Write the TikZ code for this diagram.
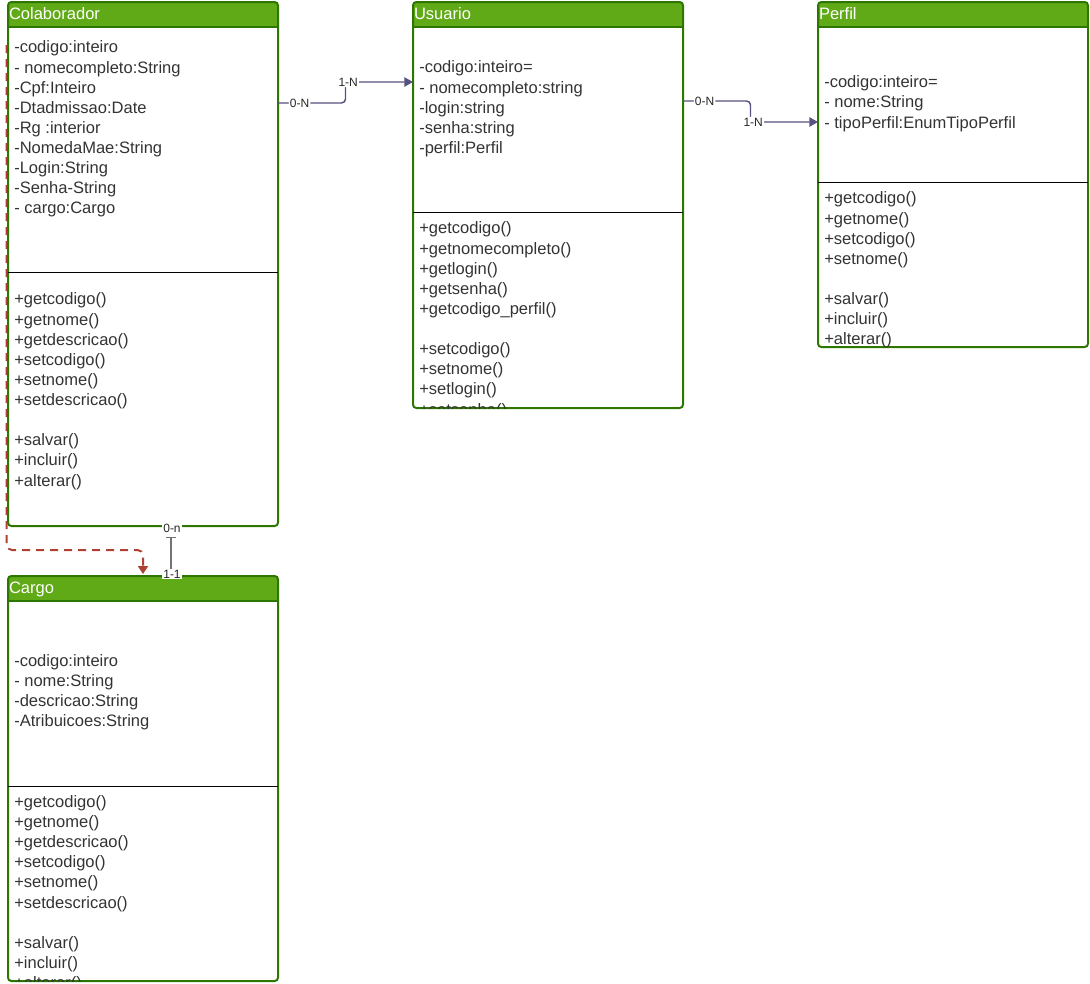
\documentclass[tikz,border=0pt]{standalone}
\usepackage{fontspec}
\setmainfont{Liberation Sans}
\usetikzlibrary{calc,positioning,arrows.meta,backgrounds}
\definecolor{headgreen}{HTML}{60A917}
\definecolor{edgegreen}{HTML}{2D7600}
\definecolor{assocline}{HTML}{56517E}
\definecolor{depline}{HTML}{AE4132}
\definecolor{membertext}{HTML}{333333}
\newcommand{\headstrut}{\rule[-3pt]{0pt}{14.2pt}}

\begin{document}
\begin{tikzpicture}[x=0.75pt, y=-0.75pt,
	classhead/.style={fill=headgreen, text=white, minimum height=18.75pt, text width=201pt, inner xsep=0.75pt, inner ysep=0pt, outer sep=0pt, align=left, font=\fontsize{12.4}{15}\selectfont},
	classbody/.style={draw=edgegreen, line width=1.5pt, rounded corners=2.5pt, anchor=north west, minimum width=202.5pt, inner sep=0pt, outer sep=0pt},
	members/.style={anchor=north west, inner sep=0pt, align=left, text=membertext, font=\fontsize{12.4}{15.1}\selectfont},
	divider/.style={black, line width=0.75pt},
	assoc/.style={assocline, line width=1.1pt, rounded corners=3pt, -{Triangle[width=7pt,length=6.5pt]}},
	onerel/.style={black!55, line width=1.1pt, {Bar[width=7.5pt]}-, shorten <=8.25pt},
	depend/.style={depline, line width=1.5pt, dash pattern=on 6pt off 4.5pt, rounded corners=4pt, -{Triangle[width=7.5pt,length=6pt]}, shorten >=1.5pt},
	lbl/.style={fill=white, inner sep=0.8pt, text=black!85, font=\fontsize{9}{10}\selectfont},
	node distance=101.25pt
	]
	\useasboundingbox (0,0) rectangle (1090,983);
	%Headers
	\node[classhead, anchor=north west](colabhead) at (8,2) {\headstrut Colaborador};
	\node[classhead](usuariohead)[right=of colabhead] {\headstrut Usuario};
	\node[classhead](perfilhead)[right=of usuariohead] {\headstrut Perfil};
	%Class boxes
	\node[classbody, minimum height=393pt](colab) at (colabhead.north west) {};
	\node[classbody, minimum height=304.5pt](usuario) at (usuariohead.north west) {};
	\node[classbody, minimum height=258.75pt](perfil) at (perfilhead.north west) {};
	\node[classhead](cargohead)[below=37.5pt of colab] {\headstrut Cargo};
	\node[classbody, minimum height=303.75pt](cargo) at (cargohead.north west) {};
	% header lines and dividers
	\foreach \cls/\div in {colab/270, usuario/210, perfil/180, cargo/210}{
		\draw[edgegreen, line width=1.5pt] (\cls head.south west) -- (\cls head.south east);
		\draw[divider] ($(\cls.north west)+(0,\div)$) -- ($(\cls.north east)+(0,\div)$);
	}
	%Members
	\begin{scope}
		\clip (colab.north west) rectangle (colab.south east);
		\node[members](colabattr) at ($(colab.north west)+(6,36.5)$) {\strut-codigo:inteiro\\- nomecompleto:String\\-Cpf:Inteiro\\-Dtadmissao:Date\\-Rg :interior\\-NomedaMae:String\\-Login:String\\-Senha-String\\- cargo:Cargo};
		\node[members](colabops) at ($(colab.north west)+(6,288.5)$) {\strut+getcodigo()\\+getnome()\\+getdescricao()\\+setcodigo()\\+setnome()\\+setdescricao()\\[15.1pt]+salvar()\\+incluir()\\+alterar()};
	\end{scope}
	\begin{scope}
		\clip (usuario.north west) rectangle (usuario.south east);
		\node[members](usuarioattr) at ($(usuario.north west)+(6,56.5)$) {\strut-codigo:inteiro=\\- nomecompleto:string\\-login:string\\-senha:string\\-perfil:Perfil};
		\node[members](usuarioops) at ($(usuario.north west)+(6,217.5)$) {\strut+getcodigo()\\+getnomecompleto()\\+getlogin()\\+getsenha()\\+getcodigo\_perfil()\\[15.1pt]+setcodigo()\\+setnome()\\+setlogin()\\+setsenha()};
	\end{scope}
	\begin{scope}
		\clip (perfil.north west) rectangle (perfil.south east);
		\node[members](perfilattr) at ($(perfil.north west)+(6,71.5)$) {\strut-codigo:inteiro=\\- nome:String\\- tipoPerfil:EnumTipoPerfil};
		\node[members](perfilops) at ($(perfil.north west)+(6,187.5)$) {\strut+getcodigo()\\+getnome()\\+setcodigo()\\+setnome()\\[15.1pt]+salvar()\\+incluir()\\+alterar()};
	\end{scope}
	\begin{scope}
		\clip (cargo.north west) rectangle (cargo.south east);
		\node[members](cargoattr) at ($(cargo.north west)+(6,76)$) {\strut-codigo:inteiro\\- nome:String\\-descricao:String\\-Atribuicoes:String};
		\node[members](cargoops) at ($(cargo.north west)+(6,217)$) {\strut+getcodigo()\\+getnome()\\+getdescricao()\\+setcodigo()\\+setnome()\\+setdescricao()\\[15.1pt]+salvar()\\+incluir()\\+alterar()};
	\end{scope}
	%Lines
	\coordinate (colabout) at ($(colab.north east)+(0,101)$);
	\coordinate (usuarioin) at ($(usuario.north west)+(0,80)$);
	\coordinate (usuarioout) at ($(usuario.north east)+(0,99)$);
	\coordinate (perfilin) at ($(perfil.north west)+(0,120)$);
	\draw[assoc] (colabout) -| ($(colabout)!.5!(usuarioin)$) node[lbl, pos=.16]{0-N} |- (usuarioin) node[lbl, pos=.52]{1-N};
	\draw[assoc] (usuarioout) -| ($(usuarioout)!.5!(perfilin)$) node[lbl, pos=.16]{0-N} |- (perfilin) node[lbl, pos=.52]{1-N};
	\draw[onerel] ($(colab.south)+(28,0)$) -- ($(cargohead.north)+(28,0)$);
	\node[lbl](colabcargo) at ($(colab.south)+(29,2)$) {0-n};
	\node[lbl](cargocolab) at ($(cargohead.north)+(29,-2)$) {1-1};
	\begin{scope}[on background layer]
		\coordinate (colabdep) at ($(colab.north west)+(-1.5,43)$);
		\draw[depend] (colabdep) |- ($(cargohead.north)+(0,-26)$) -- (cargohead.north);
	\end{scope}
\end{tikzpicture}
\end{document}
